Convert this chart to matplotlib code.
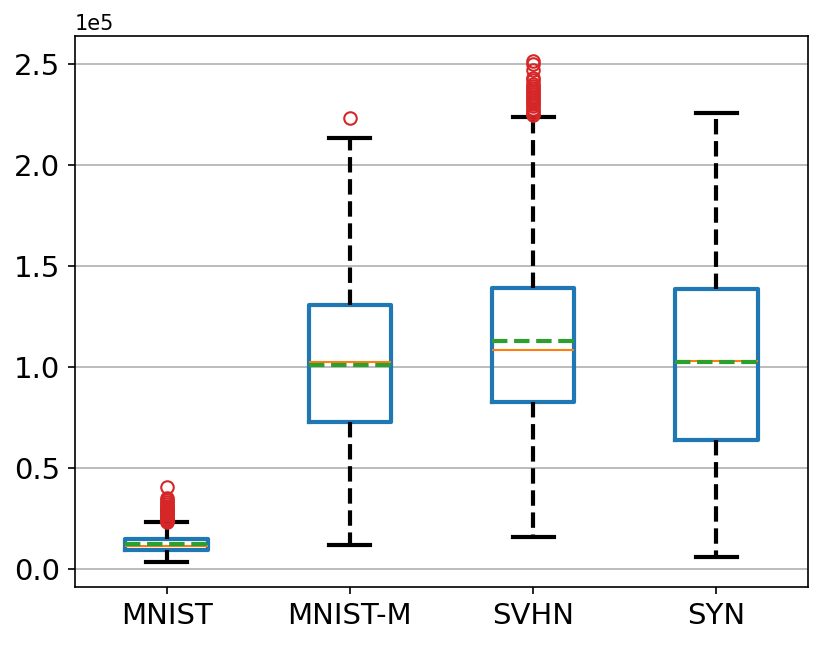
import numpy as np
from matplotlib import pyplot as plt

labels = ["MNIST", "MNIST-M", "SVHN", "SYN"]
whislo = [3500, 11900, 15900, 6000]
q1 = [9400, 72900, 82800, 64000]
med = [11400, 102700, 108600, 103200]
mean = [12400, 101200, 113100, 102700]
q3 = [14900, 130500, 138900, 138400]
whishi = [23300, 213300, 223700, 225700]
fliers = [
    [23500, 24000, 24500, 25000, 25500, 26000, 26500, 27000, 27500, 28000,
     28500, 29000, 29500, 30000, 30500, 31000, 32000, 33000, 34000, 35000, 40500],
    [223200],
    [225000, 226000, 227000, 228000, 229000, 230000, 231000, 232000, 233000,
     234000, 235000, 236000, 237000, 238000, 239000, 240000, 242000, 243000,
     247000, 250000, 251500],
    [],
]

stats = []
for i in range(len(labels)):
    stats.append(dict(label=labels[i], whislo=whislo[i], q1=q1[i], med=med[i],
                      mean=mean[i], q3=q3[i], whishi=whishi[i],
                      fliers=np.array(fliers[i])))

fig, ax = plt.subplots(figsize=(830 / 150, 645 / 150), dpi=150)
ax.bxp(stats, widths=0.45, showmeans=True, meanline=True,
       boxprops=dict(color="tab:blue", linewidth=2),
       whiskerprops=dict(color="black", linewidth=2, linestyle="--"),
       capprops=dict(color="black", linewidth=2),
       medianprops=dict(color="tab:orange", linewidth=1),
       meanprops=dict(color="tab:green", linewidth=2, linestyle="--"),
       flierprops=dict(marker="o", markerfacecolor="none",
                       markeredgecolor="tab:red", markersize=6,
                       markeredgewidth=1))
ax.yaxis.grid(True, color="#b0b0b0", linewidth=0.8)
ax.set_axisbelow(True)
ax.ticklabel_format(axis="y", style="sci", scilimits=(5, 5))
ax.yaxis.get_offset_text().set_fontsize(10)
ax.tick_params(labelsize=14)
fig.subplots_adjust(left=75 / 830, right=808 / 830, top=1 - 36 / 645, bottom=1 - 587 / 645)
fig.savefig("out.png")
